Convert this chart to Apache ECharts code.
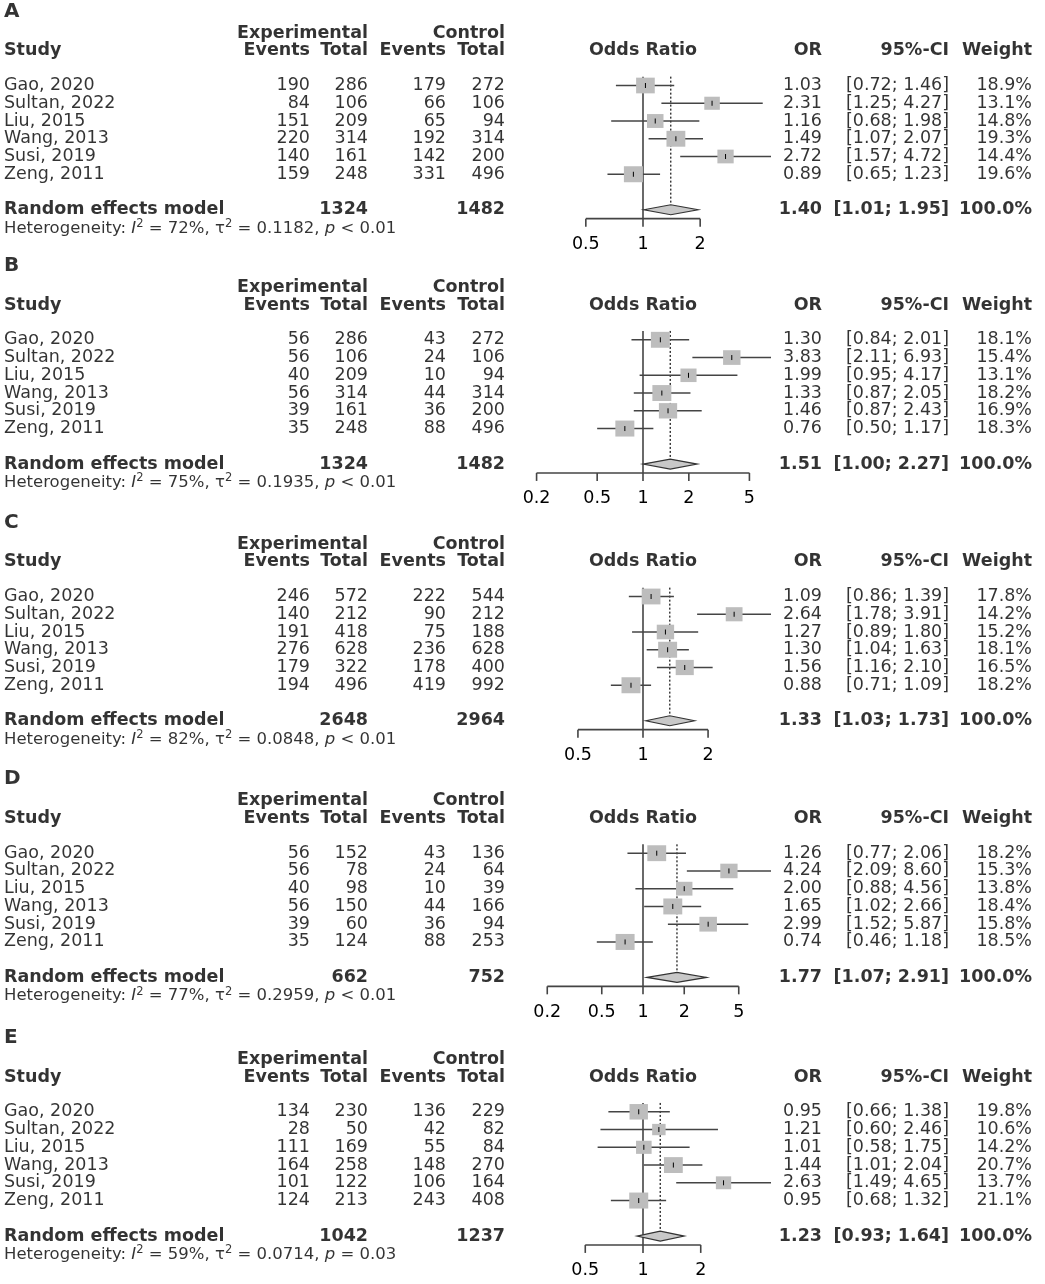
<!DOCTYPE html>
<html>
<head>
<meta charset="utf-8">
<script src="https://cdn.jsdelivr.net/npm/echarts@6/dist/echarts.min.js"></script>
<style>
html, body { margin: 0; padding: 0; background: #fff; }
#forest { width: 1045px; height: 1284px; }
</style>
</head>
<body>
<div id="forest"></div>
<script>
// data (A-E)
const studies = ['Gao, 2020', 'Sultan, 2022', 'Liu, 2015', 'Wang, 2013', 'Susi, 2019', 'Zeng, 2011'];
const panelNames = ['A', 'B', 'C', 'D', 'E'];

const expEvents = [
    [190, 84, 151, 220, 140, 159],
    [56, 56, 40, 56, 39, 35],
    [246, 140, 191, 276, 179, 194],
    [56, 56, 40, 56, 39, 35],
    [134, 28, 111, 164, 101, 124]
];
const expTotal = [
    [286, 106, 209, 314, 161, 248],
    [286, 106, 209, 314, 161, 248],
    [572, 212, 418, 628, 322, 496],
    [152, 78, 98, 150, 60, 124],
    [230, 50, 169, 258, 122, 213]
];
const ctrlEvents = [
    [179, 66, 65, 192, 142, 331],
    [43, 24, 10, 44, 36, 88],
    [222, 90, 75, 236, 178, 419],
    [43, 24, 10, 44, 36, 88],
    [136, 42, 55, 148, 106, 243]
];
const ctrlTotal = [
    [272, 106, 94, 314, 200, 496],
    [272, 106, 94, 314, 200, 496],
    [544, 212, 188, 628, 400, 992],
    [136, 64, 39, 166, 94, 253],
    [229, 82, 84, 270, 164, 408]
];
const oddsRatio = [
    [1.03, 2.31, 1.16, 1.49, 2.72, 0.89],
    [1.30, 3.83, 1.99, 1.33, 1.46, 0.76],
    [1.09, 2.64, 1.27, 1.30, 1.56, 0.88],
    [1.26, 4.24, 2.00, 1.65, 2.99, 0.74],
    [0.95, 1.21, 1.01, 1.44, 2.63, 0.95]
];
const ciLower = [
    [0.72, 1.25, 0.68, 1.07, 1.57, 0.65],
    [0.84, 2.11, 0.95, 0.87, 0.87, 0.50],
    [0.86, 1.78, 0.89, 1.04, 1.16, 0.71],
    [0.77, 2.09, 0.88, 1.02, 1.52, 0.46],
    [0.66, 0.60, 0.58, 1.01, 1.49, 0.68]
];
const ciUpper = [
    [1.46, 4.27, 1.98, 2.07, 4.72, 1.23],
    [2.01, 6.93, 4.17, 2.05, 2.43, 1.17],
    [1.39, 3.91, 1.80, 1.63, 2.10, 1.09],
    [2.06, 8.60, 4.56, 2.66, 5.87, 1.18],
    [1.38, 2.46, 1.75, 2.04, 4.65, 1.32]
];
const weights = [
    [18.9, 13.1, 14.8, 19.3, 14.4, 19.6],
    [18.1, 15.4, 13.1, 18.2, 16.9, 18.3],
    [17.8, 14.2, 15.2, 18.1, 16.5, 18.2],
    [18.2, 15.3, 13.8, 18.4, 15.8, 18.5],
    [19.8, 10.6, 14.2, 20.7, 13.7, 21.1]
];
const pooledOR = [1.40, 1.51, 1.33, 1.77, 1.23];
const pooledLower = [1.01, 1.00, 1.03, 1.07, 0.93];
const pooledUpper = [1.95, 2.27, 1.73, 2.91, 1.64];
const expSum = [1324, 1324, 2648, 662, 1042];
const ctrlSum = [1482, 1482, 2964, 752, 1237];
const hetI2 = ['72%', '75%', '82%', '77%', '59%'];
const hetTau2 = ['0.1182', '0.1935', '0.0848', '0.2959', '0.0714'];
const hetP = ['< 0.01', '< 0.01', '< 0.01', '< 0.01', '= 0.03'];
const axisTicks = [
    [0.5, 1, 2],
    [0.2, 0.5, 1, 2, 5],
    [0.5, 1, 2],
    [0.2, 0.5, 1, 2, 5],
    [0.5, 1, 2]
];

// layout
const rowH = 17.75;
const firstRowY = [85.5, 339.8, 596.5, 853.2, 1111.8];
const ROW_MIN = -4.5, ROW_MAX = 9.5;
const RE_ROW = 7, HET_ROW = 8.05, AXIS_ROW = 7.5;
const FONT = 'DejaVu Sans';
const FS = 17.5;
const LINE = '#444';
const col = { study: 4, expEv: 310, expTot: 368, ctrlEv: 446, ctrlTot: 505, or: 822, ci: 949, w: 1032, plot: 643 };

const chart = echarts.init(document.getElementById('forest'), null, { renderer: 'canvas' });

function cell(x, row, text, align, bold, size) {
    return {
        value: [x, row],
        label: {
            formatter: text, align: align, color: '#000', fontFamily: FONT,
            fontWeight: bold ? 'bold' : 'normal', fontSize: size || FS
        }
    };
}
function ci(lo, hi) {
    return '[' + lo.toFixed(2) + '; ' + hi.toFixed(2) + ']';
}

const grid = [], xAxis = [], yAxis = [], series = [];

panelNames.forEach(function (name, p) {
    const top = firstRowY[p] + ROW_MIN * rowH;
    const height = (ROW_MAX - ROW_MIN) * rowH;
    // table grid + forest grid
    grid.push({ left: 0, width: 1045, top: top, height: height });
    grid.push({ left: 515, width: 256, top: top, height: height });
    const ti = 2 * p, fi = 2 * p + 1;
    xAxis.push({ type: 'value', gridIndex: ti, min: 0, max: 1045, show: false });
    const lim = Math.max(Math.max.apply(null, ciUpper[p]), 1 / Math.min.apply(null, ciLower[p]));
    xAxis.push({ type: 'log', logBase: 10, gridIndex: fi, min: 1 / lim, max: lim, show: false });
    yAxis.push({ type: 'value', gridIndex: ti, min: ROW_MIN, max: ROW_MAX, inverse: true, show: false });
    yAxis.push({ type: 'value', gridIndex: fi, min: ROW_MIN, max: ROW_MAX, inverse: true, show: false });

    // text table
    const cells = [];
    cells.push(cell(col.study, -4.18, name, 'left', true, 20));
    cells.push(cell(col.expTot, -2.95, 'Experimental', 'right', true));
    cells.push(cell(col.ctrlTot, -2.95, 'Control', 'right', true));
    cells.push(cell(col.study, -1.95, 'Study', 'left', true));
    cells.push(cell(col.expEv, -1.95, 'Events', 'right', true));
    cells.push(cell(col.expTot, -1.95, 'Total', 'right', true));
    cells.push(cell(col.ctrlEv, -1.95, 'Events', 'right', true));
    cells.push(cell(col.ctrlTot, -1.95, 'Total', 'right', true));
    cells.push(cell(col.plot, -1.95, 'Odds Ratio', 'center', true));
    cells.push(cell(col.or, -1.95, 'OR', 'right', true));
    cells.push(cell(col.ci, -1.95, '95%-CI', 'right', true));
    cells.push(cell(col.w, -1.95, 'Weight', 'right', true));
    studies.forEach(function (s, i) {
        cells.push(cell(col.study, i, s, 'left'));
        cells.push(cell(col.expEv, i, String(expEvents[p][i]), 'right'));
        cells.push(cell(col.expTot, i, String(expTotal[p][i]), 'right'));
        cells.push(cell(col.ctrlEv, i, String(ctrlEvents[p][i]), 'right'));
        cells.push(cell(col.ctrlTot, i, String(ctrlTotal[p][i]), 'right'));
        cells.push(cell(col.or, i, oddsRatio[p][i].toFixed(2), 'right'));
        cells.push(cell(col.ci, i, ci(ciLower[p][i], ciUpper[p][i]), 'right'));
        cells.push(cell(col.w, i, weights[p][i].toFixed(1) + '%', 'right'));
    });
    cells.push(cell(col.study, RE_ROW, 'Random effects model', 'left', true));
    cells.push(cell(col.expTot, RE_ROW, String(expSum[p]), 'right', true));
    cells.push(cell(col.ctrlTot, RE_ROW, String(ctrlSum[p]), 'right', true));
    cells.push(cell(col.or, RE_ROW, pooledOR[p].toFixed(2), 'right', true));
    cells.push(cell(col.ci, RE_ROW, ci(pooledLower[p], pooledUpper[p]), 'right', true));
    cells.push(cell(col.w, RE_ROW, '100.0%', 'right', true));
    cells.push({
        value: [col.study, HET_ROW],
        label: {
            align: 'left',
            formatter: '{t|Heterogeneity: }{it|I}{sup|2}{t| = ' + hetI2[p] + ', \u03c4}{sup|2}{t| = ' +
                hetTau2[p] + ', }{it|p}{t| ' + hetP[p] + '}',
            rich: {
                t: { fontSize: 16.5, fontFamily: FONT, color: '#000' },
                it: { fontSize: 16.5, fontFamily: FONT, fontStyle: 'italic', color: '#000' },
                sup: { fontSize: 11.5, fontFamily: FONT, color: '#000', padding: [0, 0, 9, 0] }
            }
        }
    });

    series.push({
        type: 'scatter',
        xAxisIndex: ti, yAxisIndex: ti,
        symbolSize: 1,
        itemStyle: { color: 'rgba(0,0,0,0)' },
        silent: true,
        label: { show: true, position: 'inside', verticalAlign: 'middle', color: '#000', fontFamily: FONT },
        data: cells
    });

    // reference line at OR = 1 and dotted line at the pooled estimate
    series.push({
        type: 'custom',
        xAxisIndex: fi, yAxisIndex: fi,
        silent: true,
        encode: { x: 0, y: [1, 2] },
        data: [[1, -0.5, AXIS_ROW, 0], [pooledOR[p], -0.5, RE_ROW, 1]],
        renderItem: function (params, api) {
            const a = api.coord([api.value(0), api.value(1)]);
            const b = api.coord([api.value(0), api.value(2)]);
            const dotted = api.value(3) === 1;
            return {
                type: 'line',
                shape: { x1: a[0], y1: a[1], x2: b[0], y2: dotted ? b[1] - 5 : b[1] },
                style: dotted ? { stroke: '#222', lineWidth: 1.3, lineDash: [2, 2] } : { stroke: LINE, lineWidth: 1.6 }
            };
        }
    });

    // study CIs and squares
    const maxW = Math.max.apply(null, weights[p]);
    series.push({
        type: 'custom',
        xAxisIndex: fi, yAxisIndex: fi,
        silent: true,
        encode: { x: [0, 1, 2], y: 3 },
        data: studies.map(function (s, i) {
            return [oddsRatio[p][i], ciLower[p][i], ciUpper[p][i], i, weights[p][i]];
        }),
        renderItem: function (params, api) {
            const lo = api.coord([api.value(1), api.value(3)]);
            const hi = api.coord([api.value(2), api.value(3)]);
            const c = api.coord([api.value(0), api.value(3)]);
            const s = Math.sqrt(api.value(4) / maxW);
            const w = 19 * s, h = 16 * s;
            return {
                type: 'group',
                children: [
                    { type: 'line', shape: { x1: lo[0], y1: lo[1], x2: hi[0], y2: hi[1] }, style: { stroke: LINE, lineWidth: 1.5 } },
                    { type: 'rect', shape: { x: c[0] - w / 2, y: c[1] - h / 2, width: w, height: h }, style: { fill: '#bdbdbd' } },
                    { type: 'line', shape: { x1: c[0], y1: c[1] - 2.5, x2: c[0], y2: c[1] + 2.5 }, style: { stroke: '#000', lineWidth: 1 } }
                ]
            };
        }
    });

    // pooled diamond
    series.push({
        type: 'custom',
        xAxisIndex: fi, yAxisIndex: fi,
        silent: true,
        encode: { x: [0, 1, 2], y: 3 },
        data: [[pooledOR[p], pooledLower[p], pooledUpper[p], RE_ROW]],
        renderItem: function (params, api) {
            const lo = api.coord([api.value(1), api.value(3)]);
            const hi = api.coord([api.value(2), api.value(3)]);
            const c = api.coord([api.value(0), api.value(3)]);
            return {
                type: 'polygon',
                shape: { points: [[lo[0], c[1]], [c[0], c[1] - 5], [hi[0], c[1]], [c[0], c[1] + 5]] },
                style: { fill: '#c8c8c8', stroke: '#333', lineWidth: 1.2 }
            };
        }
    });

    // x axis: line, ticks and labels
    const ticks = axisTicks[p];
    series.push({
        type: 'custom',
        xAxisIndex: fi, yAxisIndex: fi,
        silent: true,
        encode: { x: [0, 1], y: 2 },
        data: [[ticks[0], ticks[ticks.length - 1], AXIS_ROW]],
        renderItem: function (params, api) {
            const a = api.coord([api.value(0), api.value(2)]);
            const b = api.coord([api.value(1), api.value(2)]);
            return { type: 'line', shape: { x1: a[0], y1: a[1], x2: b[0], y2: b[1] }, style: { stroke: LINE, lineWidth: 1.6 } };
        }
    });
    series.push({
        type: 'custom',
        xAxisIndex: fi, yAxisIndex: fi,
        silent: true,
        encode: { x: 0, y: 1 },
        data: ticks.map(function (t) { return [t, AXIS_ROW]; }),
        renderItem: function (params, api) {
            const t = api.value(0);
            const a = api.coord([t, api.value(1)]);
            return {
                type: 'group',
                children: [
                    { type: 'line', shape: { x1: a[0], y1: a[1], x2: a[0], y2: a[1] + 8 }, style: { stroke: LINE, lineWidth: 1.6 } },
                    { type: 'text', x: a[0], y: a[1] + 26, style: { text: String(t), fontSize: FS, fontFamily: FONT, fill: '#000', align: 'center', verticalAlign: 'middle' } }
                ]
            };
        }
    });
});

chart.setOption({
    animation: false,
    backgroundColor: '#fff',
    textStyle: { fontFamily: FONT },
    grid: grid,
    xAxis: xAxis,
    yAxis: yAxis,
    series: series
});
</script>
</body>
</html>
